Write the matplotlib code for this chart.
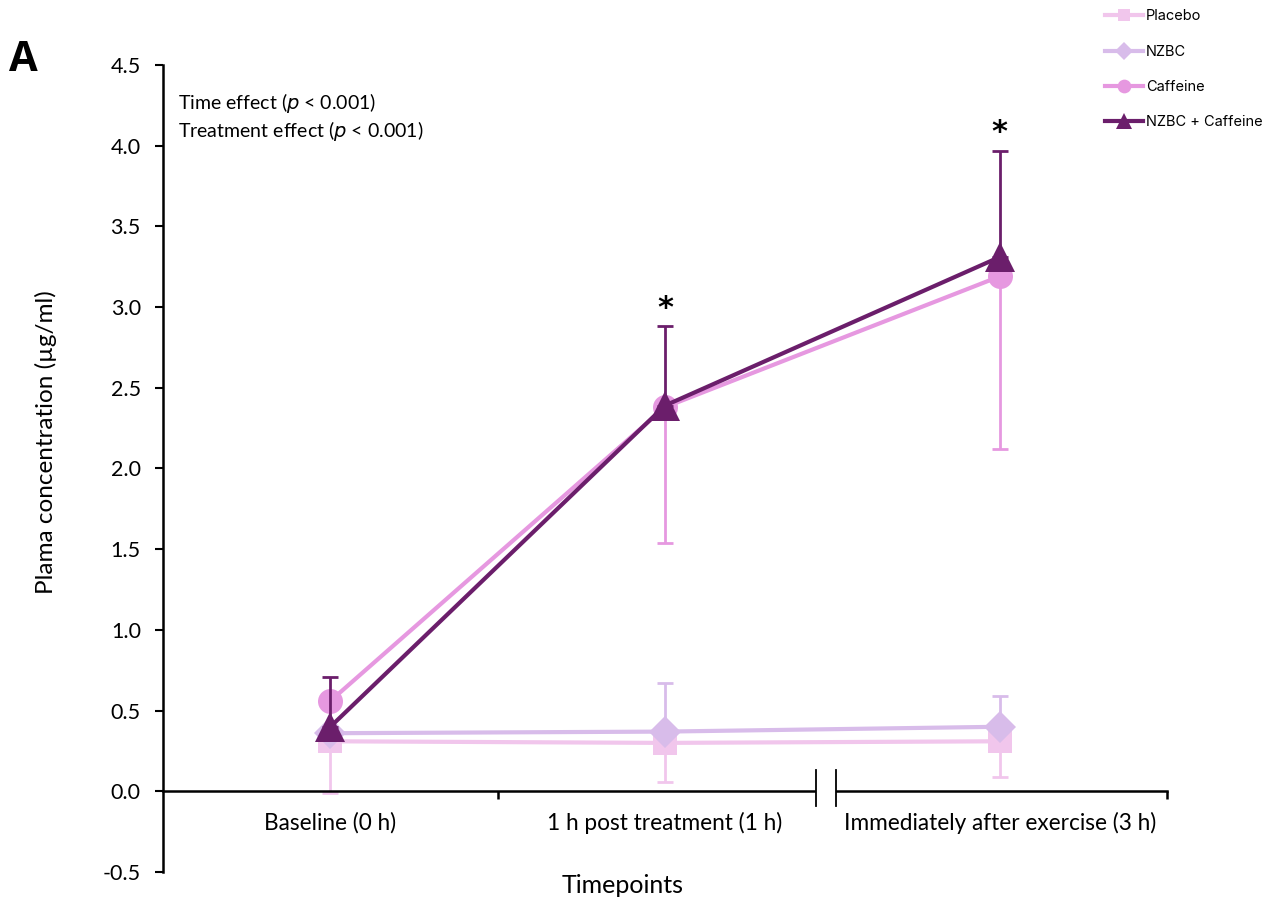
import matplotlib
matplotlib.use("Agg")
import matplotlib.pyplot as plt
import numpy as np

plt.rcParams['font.family'] = ['Lato', 'DejaVu Sans']

# 数据
timepoints = ["Baseline (0 h)", "1 h post treatment (1 h)", "Immediately after exercise (3 h)"]
groups = ["Placebo", "NZBC", "Caffeine", "NZBC + Caffeine"]

placebo = [0.31, 0.30, 0.31]
placebo_sd = [0.32, 0.24, 0.22]
nzbc = [0.36, 0.37, 0.40]
nzbc_sd = [0.00, 0.30, 0.19]
caffeine = [0.56, 2.38, 3.19]
caffeine_sd = [0.00, 0.84, 1.07]
nzbc_caf = [0.40, 2.39, 3.31]
nzbc_caf_sd = [0.31, 0.49, 0.66]

# 误差线方向: -1 向下, 1 向上
err_dir = [-1, 1, -1, 1]
colors = ["#F1C6EC", "#D8BCEA", "#E698E0", "#6B1E6B"]
markers = ["s", "D", "o", "^"]
msizes = [17, 16, 18, 21]

fig = plt.figure(figsize=(12.86, 9.06), dpi=100)
ax = fig.add_axes([0.1268, 0.0375, 0.7807, 0.8908])

x = np.arange(len(timepoints))
series = [placebo, nzbc, caffeine, nzbc_caf]
sds = [placebo_sd, nzbc_sd, caffeine_sd, nzbc_caf_sd]

for i in range(4):
    y = np.array(series[i])
    sd = np.array(sds[i])
    if err_dir[i] < 0:
        yerr = [sd, np.zeros_like(sd)]
    else:
        yerr = [np.zeros_like(sd), sd]
    ax.errorbar(x, y, yerr=yerr, fmt="none", ecolor=colors[i], elinewidth=2,
                capsize=6, capthick=2, zorder=2 + i)
    ax.plot(x, y, color=colors[i], lw=3, marker=markers[i], markersize=msizes[i],
            markeredgewidth=0, label=groups[i], zorder=3 + i)

# 显著性星号
for k in [1, 2]:
    ax.text(x[k], nzbc_caf[k] + nzbc_caf_sd[k] + 0.11, "*", ha="center", va="center",
            fontsize=22, fontweight="bold", family="DejaVu Sans")

ax.set_xlim(-0.5, 2.5)
ax.set_ylim(-0.5, 4.5)
yt = np.arange(-0.5, 4.51, 0.5)
ax.set_yticks(yt)
ax.set_yticklabels([f"{v:.1f}" for v in yt], fontsize=15.5)
ax.tick_params(axis="y", direction="out", length=6, width=1.5, pad=10)

# x 轴放在 y=0 处
ax.spines["bottom"].set_position(("data", 0))
ax.spines["top"].set_visible(False)
ax.spines["right"].set_visible(False)
ax.spines["left"].set_linewidth(1.8)
ax.spines["bottom"].set_linewidth(1.8)
ax.set_xticks([0.5, 2.5])
ax.set_xticklabels([])
ax.set_xticks(x, minor=True)
ax.set_xticklabels(timepoints, minor=True, fontsize=16.3)
ax.tick_params(axis="x", which="major", direction="out", length=6, width=1.8)
ax.tick_params(axis="x", which="minor", length=0, pad=15)

# 坐标轴断点
ax.plot([1.452, 1.51], [0, 0], color="white", lw=4, zorder=20, clip_on=False,
        solid_capstyle="butt")
for bx in [1.452, 1.51]:
    ax.plot([bx, bx], [-0.09, 0.13], color="black", lw=1.3, zorder=21, clip_on=False)

ax.set_ylabel("Plama concentration (µg/ml)", fontsize=17.5)
ax.yaxis.set_label_coords(-0.106, 0.533)
ax.set_xlabel("Timepoints", fontsize=18)
ax.xaxis.set_label_coords(0.458, -0.003)

ax.text(0.015, 0.968, "Time effect ($\\it{p}$ < 0.001)\nTreatment effect ($\\it{p}$ < 0.001)",
        transform=ax.transAxes, fontsize=14, va="top", ha="left", linespacing=1.25)

fig.text(0.007, 0.922, "A", fontsize=30, fontweight="bold", family="Open Sans")

leg = ax.legend(loc="upper left", bbox_to_anchor=(0.925, 1.085), frameon=False,
                handlelength=2.6, labelspacing=1.45, markerscale=0.55,
                handletextpad=0.2, prop={"family": "Inter", "size": 10.5})

fig.savefig("out.png", dpi=100)
